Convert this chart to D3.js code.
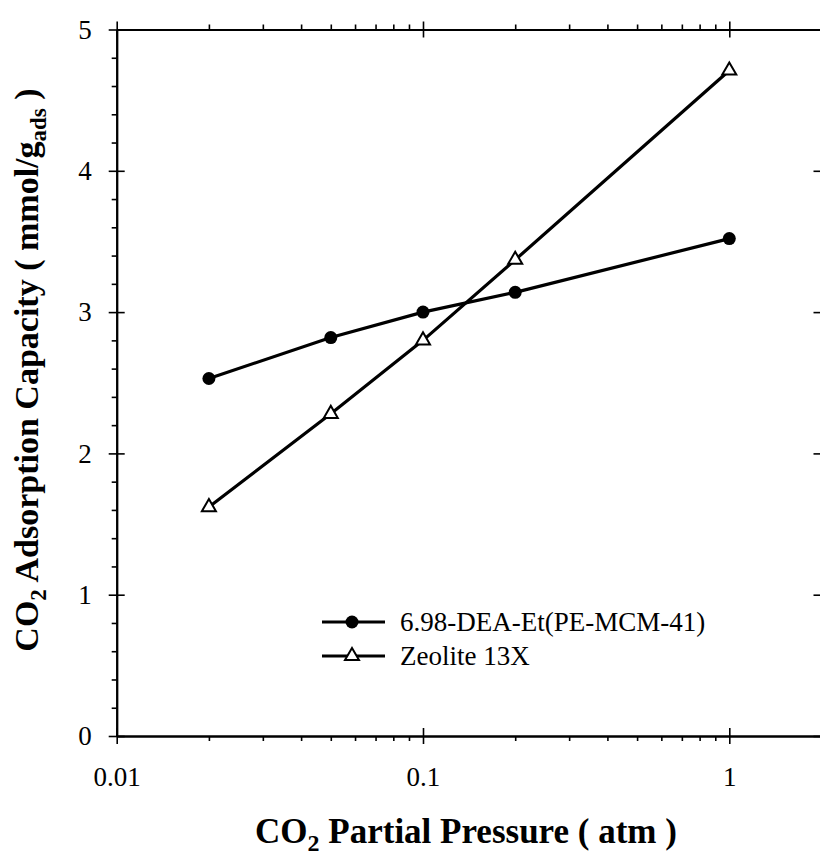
<!DOCTYPE html>
<html><head><meta charset="utf-8">
<script src="https://cdn.jsdelivr.net/npm/d3@7"></script>
<style>body{margin:0;background:#fff}svg{display:block}</style></head>
<body><svg id="c" width="820" height="856"></svg>
<script>
// ---- data ----
const pressures = [0.02, 0.05, 0.1, 0.2, 1];
const deaValues = [2.53, 2.82, 3.00, 3.14, 3.52];
const zeoliteValues = [1.62, 2.28, 2.80, 3.37, 4.71];
const seriesNames = ["6.98-DEA-Et(PE-MCM-41)", "Zeolite 13X"];
const xMajorTicks = [0.01, 0.1, 1];
const xTickLabels = ["0.01", "0.1", "1"];
const xMinorTicks = [0.02,0.03,0.04,0.05,0.06,0.07,0.08,0.09,0.2,0.3,0.4,0.5,0.6,0.7,0.8,0.9];
const yMajorTicks = [0, 1, 2, 3, 4, 5];
const yMinorTicks = [0.2,0.4,0.6,0.8,1.2,1.4,1.6,1.8,2.2,2.4,2.6,2.8,3.2,3.4,3.6,3.8,4.2,4.4,4.6,4.8];

// ---- layout ----
const L = 116.7, R = 821.5, T = 29.5, B = 736;
const svg = d3.select("#c");
const x = d3.scaleLog().domain([0.01, 2]).range([L, R]);
const y = d3.scaleLinear().domain([0, 5]).range([B, T]);
const FONT = "'Liberation Serif','Times New Roman',serif";

function styleAxis(g) {
  g.attr("font-family", null).attr("font-size", null);
  g.select(".domain").attr("stroke", "#000").attr("stroke-width", 2);
  g.selectAll(".tick line").attr("stroke", "#000").attr("stroke-width", 1.6);
}
function styleLabels(g) {
  g.selectAll(".tick text")
    .style("font-family", FONT).style("font-size", "27px").attr("fill", "#000");
}
// minor ticks (outward)
svg.append("g").attr("transform", `translate(0,${B})`)
  .call(d3.axisBottom(x).tickValues(xMinorTicks).tickSize(5).tickFormat("").tickSizeOuter(0))
  .call(styleAxis);
svg.append("g").attr("transform", `translate(0,${T})`)
  .call(d3.axisTop(x).tickValues(xMinorTicks).tickSize(5).tickFormat("").tickSizeOuter(0))
  .call(styleAxis);
svg.append("g").attr("transform", `translate(${L},0)`)
  .call(d3.axisLeft(y).tickValues(yMinorTicks).tickSize(5).tickFormat("").tickSizeOuter(0))
  .call(styleAxis);
svg.append("g").attr("transform", `translate(${R},0)`)
  .call(d3.axisRight(y).tickValues(yMinorTicks).tickSize(5).tickFormat("").tickSizeOuter(0))
  .call(styleAxis);

// major ticks (crossing)
const gxb = svg.append("g").attr("transform", `translate(0,${B})`)
  .call(d3.axisBottom(x).tickValues(xMajorTicks).tickSize(8).tickPadding(23)
    .tickFormat((d, i) => xTickLabels[i]).tickSizeOuter(0))
  .call(styleAxis).call(styleLabels);
gxb.selectAll(".tick line").attr("y1", -8);

const gxt = svg.append("g").attr("transform", `translate(0,${T})`)
  .call(d3.axisTop(x).tickValues(xMajorTicks).tickSize(8).tickFormat("").tickSizeOuter(0))
  .call(styleAxis);
gxt.selectAll(".tick line").attr("y1", 8);

const gyl = svg.append("g").attr("transform", `translate(${L},0)`)
  .call(d3.axisLeft(y).tickValues(yMajorTicks).tickSize(8).tickPadding(17)
    .tickFormat(d3.format("d")).tickSizeOuter(0))
  .call(styleAxis).call(styleLabels);
gyl.selectAll(".tick line").attr("x1", 8);

const gyr = svg.append("g").attr("transform", `translate(${R},0)`)
  .call(d3.axisRight(y).tickValues(yMajorTicks).tickSize(8).tickFormat("").tickSizeOuter(0))
  .call(styleAxis);
gyr.selectAll(".tick line").attr("x1", -8);

// ---- series ----
const line = d3.line().x(d => x(d[0])).y(d => y(d[1]));
const deaPts = pressures.map((p, i) => [p, deaValues[i]]);
const zeoPts = pressures.map((p, i) => [p, zeoliteValues[i]]);
svg.append("path").datum(deaPts).attr("d", line).attr("fill", "none")
  .attr("stroke", "#000").attr("stroke-width", 3.2);
svg.append("path").datum(zeoPts).attr("d", line).attr("fill", "none")
  .attr("stroke", "#000").attr("stroke-width", 3.2);
svg.selectAll(".dea").data(deaPts).join("circle")
  .attr("cx", d => x(d[0])).attr("cy", d => y(d[1])).attr("r", 6.5).attr("fill", "#000");
const tri = d3.symbol().type(d3.symbolTriangle).size(85);
svg.selectAll(".zeo").data(zeoPts).join("path")
  .attr("d", tri).attr("transform", d => `translate(${x(d[0])},${y(d[1])})`)
  .attr("fill", "#fff").attr("stroke", "#000").attr("stroke-width", 2);

// ---- legend ----
const legY = [622, 656];
const lg = svg.append("g");
lg.append("line").attr("x1", 322).attr("x2", 385).attr("y1", legY[0]).attr("y2", legY[0])
  .attr("stroke", "#000").attr("stroke-width", 3);
lg.append("circle").attr("cx", 352).attr("cy", legY[0]).attr("r", 6.5).attr("fill", "#000");
lg.append("line").attr("x1", 322).attr("x2", 385).attr("y1", legY[1]).attr("y2", legY[1])
  .attr("stroke", "#000").attr("stroke-width", 3);
lg.append("path").attr("d", tri).attr("transform", `translate(352,${legY[1]})`)
  .attr("fill", "#fff").attr("stroke", "#000").attr("stroke-width", 2);
seriesNames.forEach((s, i) => {
  lg.append("text").attr("x", 400).attr("y", legY[i] + 9).text(s)
    .style("font-family", FONT).style("font-size", "27px").attr("fill", "#000");
});

// ---- axis titles ----
const xt = svg.append("text").attr("x", 466).attr("y", 843).attr("text-anchor", "middle")
  .style("font-family", FONT).style("font-size", "35px").attr("font-weight", "bold");
xt.append("tspan").text("CO");
xt.append("tspan").attr("dy", 8).style("font-size", "24px").text("2");
xt.append("tspan").attr("dy", -8).text(" Partial Pressure ( atm )");

const yt = svg.append("text").attr("transform", "translate(38,370) rotate(-90)")
  .attr("text-anchor", "middle")
  .style("font-family", FONT).style("font-size", "34px").attr("font-weight", "bold");
yt.append("tspan").text("CO");
yt.append("tspan").attr("dy", 8).style("font-size", "23px").text("2");
yt.append("tspan").attr("dy", -8).text(" Adsorption Capacity ( mmol/g");
yt.append("tspan").attr("dy", 8).style("font-size", "23px").text("ads");
yt.append("tspan").attr("dy", -8).text(" )");
</script></body></html>
